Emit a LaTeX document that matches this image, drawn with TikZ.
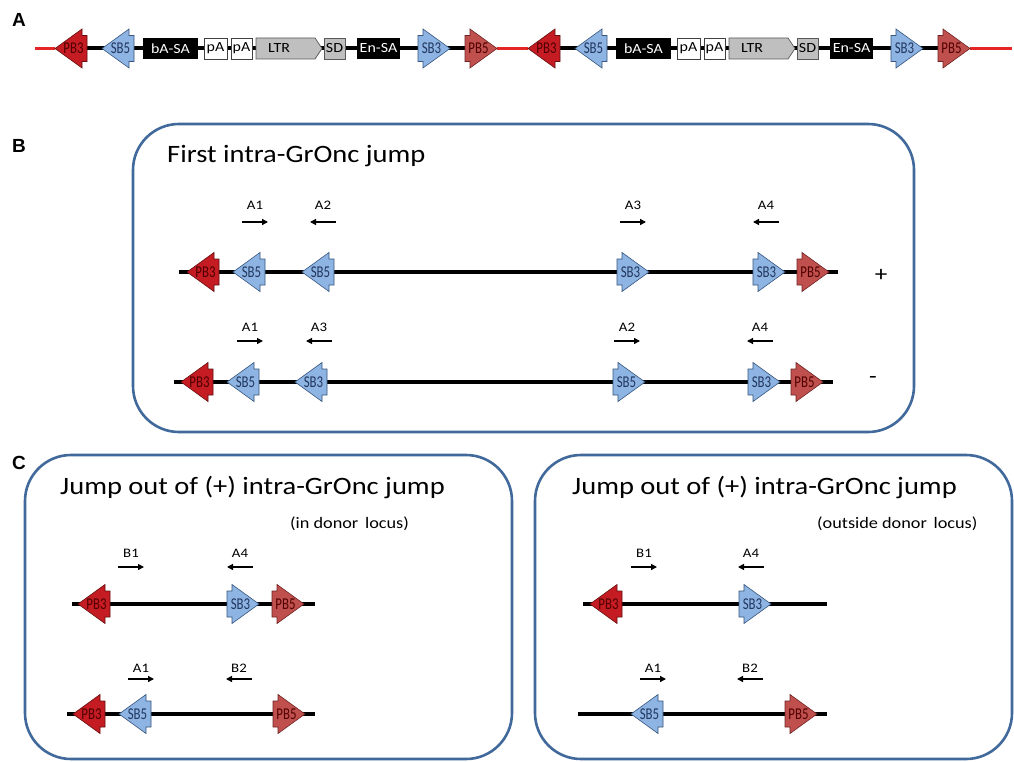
\documentclass[tikz,border=0pt]{standalone}
\usepackage{fontspec}
\setmainfont{Carlito}
\newfontfamily\txtf[FakeStretch=1.14]{Carlito}
\newfontfamily\narf[FakeStretch=0.78]{Carlito}
\newfontfamily\panf{Liberation Sans}
\usetikzlibrary{arrows.meta}
\pgfdeclarelayer{bg}
\pgfdeclarelayer{paper}
\pgfsetlayers{paper,bg,main}
\definecolor{pbtfill}{RGB}{196,28,34}
\definecolor{pbtdraw}{RGB}{100,15,15}
\definecolor{pbffill}{RGB}{192,80,77}
\definecolor{pbfdraw}{RGB}{110,35,35}
\definecolor{sbfill}{RGB}{141,180,226}
\definecolor{sbdraw}{RGB}{55,85,125}
\definecolor{redtxt}{RGB}{80,0,0}
\definecolor{bluetxt}{RGB}{35,55,95}
\definecolor{panelblue}{RGB}{65,105,155}
\definecolor{redline}{RGB}{228,38,38}
\definecolor{greyfill}{RGB}{191,191,191}
\tikzset{
  pbthree/.style={fill=pbtfill,draw=pbtdraw,line width=0.6pt,line join=miter},
  pbfive/.style={fill=pbffill,draw=pbfdraw,line width=0.6pt,line join=miter},
  sbc/.style={fill=sbfill,draw=sbdraw,line width=0.6pt,line join=miter},
  tlab/.style={inner sep=0pt,font=\narf\fontsize{16.5}{18}\selectfont},
  pbthreetext/.style={tlab,text=redtxt},
  pbfivetext/.style={tlab,text=redtxt},
  sbctext/.style={tlab,text=bluetxt},
  bb/.style={line width=4pt,black},
  rl/.style={line width=3pt,redline},
  boxtext/.style={font=\txtf\fontsize{14}{16}\selectfont,inner sep=0pt},
  blackbox/.style={boxtext,fill=black,text=white,minimum height=21pt},
  whitebox/.style={boxtext,fill=white,draw=black!75,line width=0.7pt,minimum height=21pt},
  greybox/.style={boxtext,fill=greyfill,draw=black!65,line width=0.7pt,minimum height=21pt},
  panel/.style={draw=panelblue,line width=2.6pt,rounded corners=46pt,inner sep=0pt},
  title/.style={font=\txtf\fontsize{25}{30}\selectfont,inner sep=0pt},
  subtitle/.style={font=\txtf\fontsize{16}{19}\selectfont,inner sep=0pt},
  plabel/.style={font=\txtf\fontsize{13}{15}\selectfont,inner sep=0pt},
  primer/.style={line width=1.3pt,-{Triangle[length=6pt,width=6pt]}},
  panlab/.style={font=\panf\bfseries\fontsize{19}{22}\selectfont,inner sep=0pt},
  sign/.style={font=\txtf\fontsize{22}{24}\selectfont,inner sep=0pt}
}
% left-pointing element: name, tip x, y, style, text
\newcommand\tnL[5]{%
  \draw[#4] (#2,#3) -- (#2+27,#3-19.5) -- (#2+27,#3-13) -- (#2+32,#3-13)
    -- (#2+32,#3+13) -- (#2+27,#3+13) -- (#2+27,#3+19.5) -- cycle;
  \coordinate (#1-t) at (#2,#3);
  \coordinate (#1-b) at (#2+32,#3);
  \node[#4text] (#1) at (#2+18.5,#3) {#5};}
% right-pointing element: name, back x, y, style, text
\newcommand\tnR[5]{%
  \draw[#4] (#2,#3-13) -- (#2+5,#3-13) -- (#2+5,#3-19.5) -- (#2+32,#3)
    -- (#2+5,#3+19.5) -- (#2+5,#3+13) -- (#2,#3+13) -- cycle;
  \coordinate (#1-b) at (#2,#3);
  \coordinate (#1-t) at (#2+32,#3);
  \node[#4text] (#1) at (#2+13.5,#3) {#5};}
% primers: name, centre x, label y, arrow y, text
\newcommand\primerR[5]{%
  \node[plabel] (#1) at (#2,#3) {#5};
  \coordinate (#1-s) at (#2-13,#4);
  \coordinate (#1-e) at (#2+13,#4);
  \draw[primer] (#1-s) -- (#1-e);}
\newcommand\primerL[5]{%
  \node[plabel] (#1) at (#2,#3) {#5};
  \coordinate (#1-s) at (#2+13,#4);
  \coordinate (#1-e) at (#2-13,#4);
  \draw[primer] (#1-s) -- (#1-e);}
% one copy of the construct in row A
\newcommand\rowA[1]{%
  \tnL{#1pbt}{55}{48.5}{pbthree}{PB3}
  \tnL{#1sbf}{102}{48.5}{sbc}{SB5}
  \node[blackbox,minimum width=55pt] (#1ba) at (170.5,48.5) {bA-SA};
  \node[whitebox,minimum width=23pt] (#1pa) at (215.5,48.5) {pA};
  \node[whitebox,minimum width=21pt] (#1pb) at (241.5,48.5) {pA};
  \draw[fill=greyfill,draw=black!65,line width=0.7pt] (256,38) -- (315,38) -- (322,48.5) -- (315,59) -- (256,59) -- cycle;
  \node[boxtext] (#1ltr) at (279,48.5) {LTR};
  \node[greybox,minimum width=21pt] (#1sd) at (334.5,48.5) {SD};
  \node[blackbox,minimum width=43pt] (#1en) at (378.5,48.5) {En-SA};
  \tnR{#1sbt}{418}{48.5}{sbc}{SB3}
  \tnR{#1pbf}{465}{48.5}{pbfive}{PB5}}

\begin{document}
\begin{tikzpicture}[x=1pt,y=-1pt]
\begin{pgfonlayer}{paper}
\fill[white] (0,0) rectangle (1014,762);
\end{pgfonlayer}
\useasboundingbox (0,0) rectangle (1014,762);

% panel letters
\node[panlab] (lA) at (19,20) {A};
\node[panlab] (lB) at (19,146) {B};
\node[panlab] (lC) at (19,463) {C};

% ---------------- Row A ----------------
\rowA{a}
\begin{scope}[xshift=473pt]
\rowA{b}
\end{scope}
\coordinate (aRs) at (35,48.5);
\coordinate (aRe) at (1012,48.5);
\begin{pgfonlayer}{bg}
\draw[rl] (aRs) -- (apbt-t);
\draw[bb] (apbt-b) -- (apbf-b);
\draw[rl] (apbf-t) -- (bpbt-t);
\draw[bb] (bpbt-b) -- (bpbf-b);
\draw[rl] (bpbf-t) -- (aRe);
\end{pgfonlayer}

% ---------------- Panel B ----------------
\node[panel,minimum width=781pt,minimum height=308pt] (pB) at (523.5,278) {};
\node[title,anchor=base west] (tB) at (167,163) {First intra-GrOnc jump};

% row B1
\tnL{p1a}{187}{272}{pbthree}{PB3}
\tnL{p1b}{233}{272}{sbc}{SB5}
\tnL{p1c}{302}{272}{sbc}{SB5}
\tnR{p1d}{617}{272}{sbc}{SB3}
\tnR{p1e}{753}{272}{sbc}{SB3}
\tnR{p1f}{797}{272}{pbfive}{PB5}
\coordinate (l1s) at (179,272);
\coordinate (l1e) at (838,272);
\primerR{q1a}{255}{205}{222}{A1}
\primerL{q1b}{323}{205}{222}{A2}
\primerR{q1c}{633}{205}{222}{A3}
\primerL{q1d}{766}{205}{222}{A4}
\node[sign] (plus) at (881,275) {+};

% row B2
\tnL{p2a}{181}{382}{pbthree}{PB3}
\tnL{p2b}{227}{382}{sbc}{SB5}
\tnL{p2c}{295}{382}{sbc}{SB3}
\tnR{p2d}{613}{382}{sbc}{SB5}
\tnR{p2e}{748}{382}{sbc}{SB3}
\tnR{p2f}{791}{382}{pbfive}{PB5}
\coordinate (l2s) at (174,382);
\coordinate (l2e) at (833,382);
\primerR{q2a}{250}{327}{341}{A1}
\primerL{q2b}{319}{327}{341}{A3}
\primerR{q2c}{627}{327}{341}{A2}
\primerL{q2d}{760}{327}{341}{A4}
\node[sign] (minus) at (873,380) {-};

% ---------------- Panel C ----------------
\node[panel,minimum width=487pt,minimum height=304pt] (pC1) at (268.5,607) {};
\node[panel,minimum width=477pt,minimum height=304pt] (pC2) at (773.5,607) {};
\node[title,anchor=base west] (tC1) at (60,494) {Jump out of (+) intra-GrOnc jump};
\node[title,anchor=base west] (tC2) at (572,494) {Jump out of (+) intra-GrOnc jump};
\node[subtitle,anchor=base west] (sC1) at (290,528) {(in donor\, locus)};
\node[subtitle,anchor=base west] (sC2) at (817,528) {(outside donor\, locus)};

% C left row 1
\tnL{c1a}{78}{604}{pbthree}{PB3}
\tnR{c1b}{227}{604}{sbc}{SB3}
\tnR{c1c}{272}{604}{pbfive}{PB5}
\coordinate (l3s) at (72,604);
\coordinate (l3e) at (315,604);
\primerR{q3a}{131}{553}{567}{B1}
\primerL{q3b}{240}{553}{567}{A4}

% C left row 2
\tnL{c2a}{73}{714}{pbthree}{PB3}
\tnL{c2b}{119}{714}{sbc}{SB5}
\tnR{c2c}{273}{714}{pbfive}{PB5}
\coordinate (l4s) at (67,714);
\coordinate (l4e) at (315,714);
\primerR{q4a}{141}{668}{679}{A1}
\primerL{q4b}{239}{668}{679}{B2}

% C right row 1
\tnL{c3a}{590}{604}{pbthree}{PB3}
\tnR{c3b}{739}{604}{sbc}{SB3}
\coordinate (l5s) at (583,604);
\coordinate (l5e) at (827,604);
\primerR{q5a}{644}{553}{567}{B1}
\primerL{q5b}{751}{553}{567}{A4}

% C right row 2
\tnL{c4a}{631}{714}{sbc}{SB5}
\tnR{c4b}{785}{714}{pbfive}{PB5}
\coordinate (l6s) at (578,714);
\coordinate (l6e) at (827,714);
\primerR{q6a}{653}{668}{679}{A1}
\primerL{q6b}{750}{668}{679}{B2}

\begin{pgfonlayer}{bg}
\draw[bb] (l1s) -- (l1e);
\draw[bb] (l2s) -- (l2e);
\draw[bb] (l3s) -- (l3e);
\draw[bb] (l4s) -- (l4e);
\draw[bb] (l5s) -- (l5e);
\draw[bb] (l6s) -- (l6e);
\end{pgfonlayer}
\end{tikzpicture}
\end{document}
